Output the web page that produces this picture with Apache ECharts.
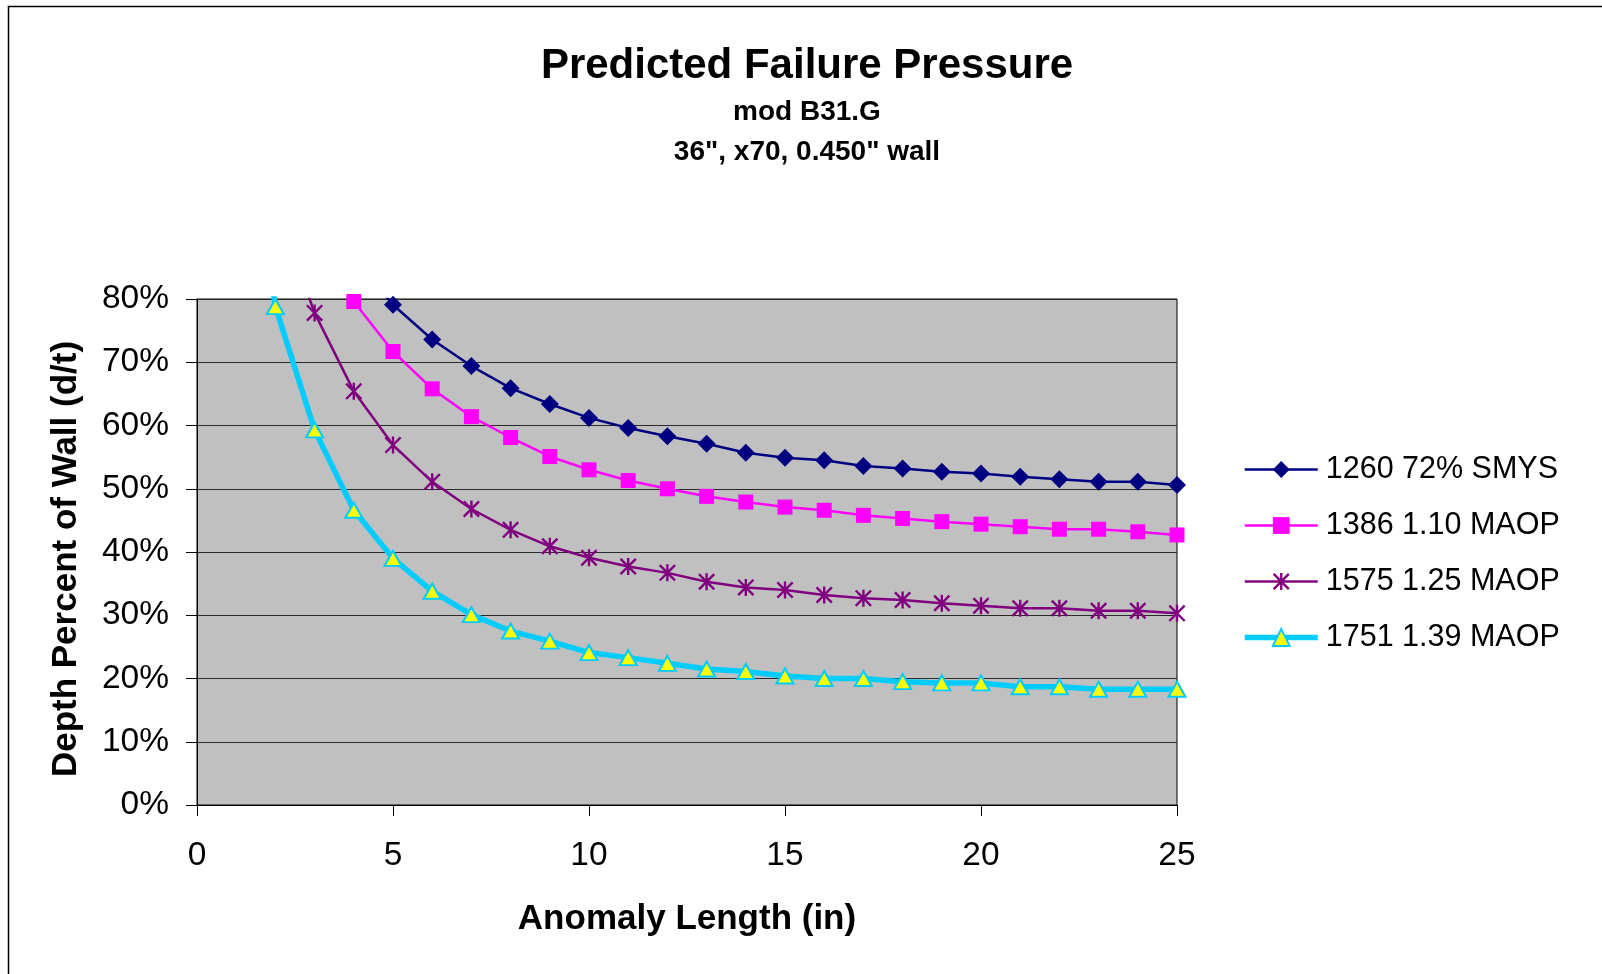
<!DOCTYPE html>
<html>
<head>
<meta charset="utf-8">
<script src="https://cdn.jsdelivr.net/npm/echarts@6/dist/echarts.min.js"></script>
<style>
html,body{margin:0;padding:0;background:#fff;}
#chart{width:1602px;height:974px;}
</style>
</head>
<body>
<div id="chart"></div>
<script>
// Anomaly length (in)
var xs = [1,2,3,4,5,6,7,8,9,10,11,12,13,14,15,16,17,18,19,20,21,22,23,24,25];
// Depth percent of wall (%)
var s1260 = [null,null,null,86.4,79.1,73.6,69.4,65.9,63.4,61.2,59.6,58.3,57.1,55.7,54.9,54.5,53.6,53.2,52.7,52.4,51.9,51.5,51.1,51.1,50.6];
var s1386 = [null,null,95.0,79.6,71.7,65.8,61.4,58.1,55.1,53.0,51.3,50.0,48.8,47.9,47.1,46.6,45.8,45.3,44.8,44.4,44.0,43.6,43.6,43.2,42.7];
var s1575 = [null,95.0,77.8,65.4,56.9,51.1,46.8,43.5,40.9,39.1,37.7,36.7,35.3,34.4,34.0,33.2,32.7,32.4,31.9,31.5,31.1,31.1,30.7,30.7,30.3];
var s1751 = [120.0,78.8,59.3,46.6,39.0,33.8,30.1,27.5,25.9,24.1,23.3,22.4,21.5,21.1,20.4,20.0,20.0,19.5,19.3,19.3,18.7,18.7,18.3,18.3,18.3];
var seriesNames = ['1260 72% SMYS','1386 1.10 MAOP','1575 1.25 MAOP','1751 1.39 MAOP'];
var yTicks = [0,10,20,30,40,50,60,70,80];
var xTicks = [0,5,10,15,20,25];

function pairs(vals){
  var out = [];
  for (var i = 0; i < xs.length; i++) { if (vals[i] !== null) out.push([xs[i], vals[i]]); }
  return out;
}
var FONT = '"Liberation Sans", Arial, sans-serif';
var starPath = 'path://M8.6,0H11.4V20H8.6Z M0,2L2,0L20,18L18,20Z M18,0L20,2L2,20L0,18Z';

var chart = echarts.init(document.getElementById('chart'), null, {renderer:'canvas'});
chart.setOption({
  backgroundColor: '#ffffff',
  animation: false,
  textStyle: {fontFamily: FONT},
  title: [
    {text: 'Predicted Failure Pressure', left: 802, top: 40, textAlign: 'center',
     textStyle: {fontSize: 42, fontWeight: 'bold', color: '#000', fontFamily: FONT}},
    {text: 'mod B31.G', left: 802, top: 93, textAlign: 'center',
     textStyle: {fontSize: 28, fontWeight: 'bold', color: '#000', fontFamily: FONT}},
    {text: '36", x70, 0.450" wall', left: 802, top: 133, textAlign: 'center',
     textStyle: {fontSize: 28, fontWeight: 'bold', color: '#000', fontFamily: FONT}}
  ],
  graphic: [{
    type: 'rect', shape: {x: 8.5, y: 6.5, width: 1700, height: 1000}, silent: true,
    style: {fill: 'none', stroke: '#000', lineWidth: 1.5}, z: 100
  }],
  legend: {
    orient: 'vertical', left: 1237, top: 449,
    itemWidth: 73, itemHeight: 21, itemGap: 25,
    textStyle: {fontSize: 30.5, color: '#000', fontFamily: FONT, padding: [0, 0, 0, 3]},
    data: [
      {name: seriesNames[0], lineStyle: {width: 2.5}},
      {name: seriesNames[1], lineStyle: {width: 2.5}},
      {name: seriesNames[2], lineStyle: {width: 2.5}},
      {name: seriesNames[3], lineStyle: {width: 5.5}}
    ]
  },
  grid: {left: 197, top: 299, right: 425, bottom: 169, show: true,
         backgroundColor: '#C0C0C0', borderColor: '#000', borderWidth: 1},
  xAxis: {
    type: 'value', min: 0, max: 25, interval: 5,
    name: 'Anomaly Length (in)', nameLocation: 'middle', nameGap: 97,
    nameTextStyle: {fontSize: 35, fontWeight: 'bold', color: '#000', fontFamily: FONT},
    axisLine: {show: true, lineStyle: {color: '#000', width: 1}},
    axisTick: {show: true, inside: false, length: 11, lineStyle: {color: '#000'}},
    axisLabel: {margin: 34, fontSize: 33.5, color: '#000', fontFamily: FONT,
      formatter: function(v){ return xTicks.indexOf(v) >= 0 ? String(v) : ''; }},
    splitLine: {show: false}
  },
  yAxis: {
    type: 'value', min: 0, max: 80, interval: 10,
    name: 'Depth Percent of Wall (d/t)', nameLocation: 'middle', nameGap: 113, nameRotate: 90,
    nameTextStyle: {fontSize: 35, fontWeight: 'bold', color: '#000', fontFamily: FONT, padding: [0, 14, 0, 0]},
    axisLine: {show: true, lineStyle: {color: '#000', width: 1}},
    axisTick: {show: true, inside: false, length: 11, lineStyle: {color: '#000'}},
    axisLabel: {margin: 28, fontSize: 33.5, color: '#000', fontFamily: FONT,
      formatter: function(v){ return yTicks.indexOf(v) >= 0 ? v + '%' : ''; }},
    splitLine: {show: true, lineStyle: {color: '#2a2a2a', width: 1}}
  },
  series: [
    {name: seriesNames[0], type: 'line', data: pairs(s1260), clip: true,
     symbol: 'diamond', symbolSize: 18,
     itemStyle: {color: '#000080'}, lineStyle: {color: '#000080', width: 2.5}},
    {name: seriesNames[1], type: 'line', data: pairs(s1386), clip: true,
     symbol: 'rect', symbolSize: 15,
     itemStyle: {color: '#FF00FF'}, lineStyle: {color: '#FF00FF', width: 2.5}},
    {name: seriesNames[2], type: 'line', data: pairs(s1575), clip: true,
     symbol: starPath, symbolSize: 17,
     itemStyle: {color: '#800080'}, lineStyle: {color: '#800080', width: 2.5}},
    {name: seriesNames[3], type: 'line', data: pairs(s1751), clip: true,
     symbol: 'triangle', symbolSize: [17, 15],
     itemStyle: {color: '#FFFF00', borderColor: '#00CCFF', borderWidth: 2},
     lineStyle: {color: '#00CCFF', width: 5.5}}
  ]
});
</script>
</body>
</html>
